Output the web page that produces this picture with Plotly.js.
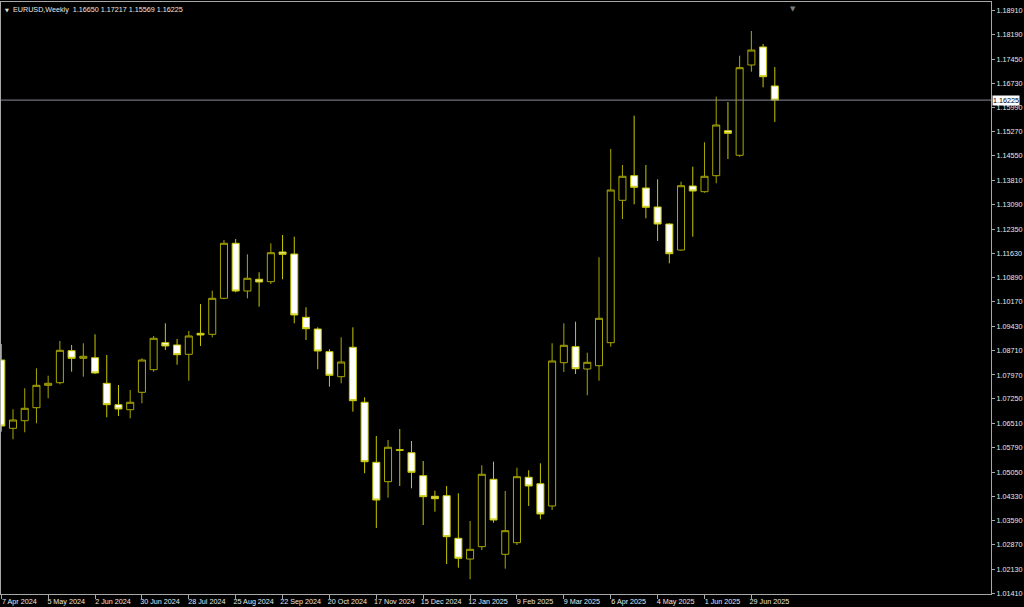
<!DOCTYPE html>
<html>
<head>
<meta charset="utf-8">
<script src="https://cdn.plot.ly/plotly-3.0.1.min.js"></script>
<style>
html,body{margin:0;padding:0;background:#000;}
#chart{width:1024px;height:607px;}
</style>
</head>
<body>
<div id="chart"></div>
<script>
const weekDates = [
 '2024-04-07','2024-04-14','2024-04-21','2024-04-28',
 '2024-05-05','2024-05-12','2024-05-19','2024-05-26',
 '2024-06-02','2024-06-09','2024-06-16','2024-06-23','2024-06-30',
 '2024-07-07','2024-07-14','2024-07-21','2024-07-28',
 '2024-08-04','2024-08-11','2024-08-18','2024-08-25',
 '2024-09-01','2024-09-08','2024-09-15','2024-09-22','2024-09-29',
 '2024-10-06','2024-10-13','2024-10-20','2024-10-27',
 '2024-11-03','2024-11-10','2024-11-17','2024-11-24',
 '2024-12-01','2024-12-08','2024-12-15','2024-12-22','2024-12-29',
 '2025-01-05','2025-01-12','2025-01-19','2025-01-26',
 '2025-02-02','2025-02-09','2025-02-16','2025-02-23',
 '2025-03-02','2025-03-09','2025-03-16','2025-03-23','2025-03-30',
 '2025-04-06','2025-04-13','2025-04-20','2025-04-27',
 '2025-05-04','2025-05-11','2025-05-18','2025-05-25',
 '2025-06-01','2025-06-08','2025-06-15','2025-06-22','2025-06-29',
 '2025-07-06','2025-07-13'
];
const openVals = [
 1.08420,1.06369,1.06597,1.06988,1.07660,1.07738,1.08699,1.08471,1.08489,1.07720,
 1.07078,1.06928,1.07450,1.08129,1.08940,1.08871,1.08591,1.09222,1.09192,1.10273,
 1.11925,1.10492,1.10844,1.10772,1.11663,1.11603,1.09702,1.09351,1.08669,1.07919,
 1.08802,1.07150,1.05348,1.04766,1.05727,1.05636,1.04946,1.04327,1.04345,1.03066,
 1.02444,1.02814,1.04838,1.02585,1.02934,1.04898,1.04705,1.04036,1.08339,1.08820,
 1.08150,1.08249,1.08940,1.13216,1.13955,1.13585,1.13015,1.12504,1.11723,1.13645,
 1.13474,1.13955,1.15306,1.14567,1.17279,1.17820,1.16650
];
const highVals = [
 1.08901,1.06940,1.07570,1.08171,1.07949,1.08991,1.08871,1.08922,1.09192,1.08570,
 1.07669,1.07519,1.08471,1.09141,1.09522,1.09051,1.09291,1.10102,1.10501,1.12024,
 1.12054,1.11594,1.11054,1.11925,1.12174,1.12123,1.10003,1.09402,1.08741,1.09102,
 1.09402,1.07300,1.06138,1.06018,1.06348,1.05988,1.05387,1.04495,1.04636,1.04417,
 1.03585,1.05258,1.05366,1.04486,1.05186,1.05108,1.05318,1.08922,1.09522,1.09570,
 1.08639,1.11504,1.14757,1.14276,1.15757,1.14276,1.13847,1.12525,1.13775,1.14225,
 1.14958,1.16327,1.16168,1.17558,1.18300,1.17910,1.17217
];
const lowVals = [
 1.06267,1.06039,1.06249,1.06519,1.07270,1.07690,1.08069,1.07919,1.08000,1.06699,
 1.06739,1.06669,1.07120,1.08069,1.08720,1.08279,1.07799,1.08841,1.09102,1.10243,
 1.10453,1.10273,1.10021,1.10702,1.10844,1.09522,1.09021,1.08141,1.07618,1.07720,
 1.06868,1.05018,1.03375,1.04285,1.04636,1.04567,1.03465,1.03865,1.02294,1.02183,
 1.01835,1.02714,1.03534,1.02153,1.02865,1.04036,1.03636,1.03916,1.08060,1.08000,
 1.07360,1.07799,1.08820,1.12654,1.13096,1.12675,1.11994,1.11324,1.11702,1.12123,
 1.13444,1.13727,1.14456,1.14525,1.17078,1.16609,1.15569
];
const closeVals = [
 1.06438,1.06618,1.06970,1.07660,1.07720,1.08711,1.08471,1.08531,1.08030,1.07078,
 1.06949,1.07150,1.08420,1.09072,1.08841,1.08579,1.09141,1.09171,1.10273,1.11925,
 1.10492,1.10874,1.10763,1.11642,1.11594,1.09772,1.09360,1.08690,1.07961,1.08360,
 1.07198,1.05366,1.04216,1.05799,1.05710,1.05048,1.04315,1.04255,1.03114,1.02465,
 1.02735,1.04988,1.03615,1.03294,1.04916,1.04636,1.03796,1.08390,1.08862,1.08159,
 1.08351,1.09672,1.13525,1.13937,1.13606,1.13006,1.12504,1.11612,1.13654,1.13495,
 1.13937,1.15477,1.15228,1.17198,1.17729,1.16928,1.16225
];
const xTickVals = [
 '2024-04-07','2024-05-05','2024-06-02','2024-06-30','2024-07-28','2024-08-25',
 '2024-09-22','2024-10-20','2024-11-17','2024-12-15','2025-01-12','2025-02-09',
 '2025-03-09','2025-04-06','2025-05-04','2025-06-01','2025-06-29'
];
const xTickText = [
 '7 Apr 2024','5 May 2024','2 Jun 2024','30 Jun 2024','28 Jul 2024','25 Aug 2024',
 '22 Sep 2024','20 Oct 2024','17 Nov 2024','15 Dec 2024','12 Jan 2025','9 Feb 2025',
 '9 Mar 2025','6 Apr 2025','4 May 2025','1 Jun 2025','29 Jun 2025'
];
const yTickText = [
 '1.01410','1.02130','1.02870','1.03590','1.04330','1.05050','1.05790','1.06510',
 '1.07250','1.07970','1.08710','1.09430','1.10170','1.10890','1.11630','1.12350',
 '1.13090','1.13810','1.14550','1.15270','1.15990','1.16730','1.17450','1.18190','1.18910'
];
const symbolTitle = 'EURUSD,Weekly';

const FONT = 'Liberation Sans, Arial, sans-serif';
const FS = 7.2;
const n = closeVals.length;
const lastClose = closeVals[n - 1];
const headerText = symbolTitle + '  ' + [openVals[n-1], highVals[n-1], lowVals[n-1], closeVals[n-1]]
  .map(v => v.toFixed(5)).join(' ');

const trace = {
  type: 'candlestick',
  x: weekDates,
  open: openVals, high: highVals, low: lowVals, close: closeVals,
  increasing: {line: {color: '#a8a800', width: 1}, fillcolor: '#000000'},
  decreasing: {line: {color: '#c8c800', width: 1}, fillcolor: '#ffffff'},
  whiskerwidth: 0,
  hoverinfo: 'skip',
  showlegend: false
};

const layout = {
  width: 1024, height: 607,
  margin: {l: 1, r: 33, t: 2, b: 13, pad: 0},
  paper_bgcolor: '#000000',
  plot_bgcolor: '#000000',
  showlegend: false,
  boxgap: 0.4,
  boxgroupgap: 0,
  font: {family: FONT, size: FS, color: '#e8e8e8'},
  xaxis: {
    type: 'date',
    range: ['2024-04-06 20:00', '2025-11-19 03:00'],
    rangeslider: {visible: false},
    showgrid: false, zeroline: false,
    showline: true, mirror: true, linecolor: '#a8a8a8', linewidth: 1,
    ticks: 'outside', ticklen: 4, tickcolor: '#a8a8a8', tickwidth: 1,
    tickmode: 'array', tickvals: xTickVals, ticktext: xTickText,
    ticklabelshift: 18, ticklabelstandoff: -4,
    tickfont: {family: FONT, size: FS, color: '#e8e8e8'},
    fixedrange: true
  },
  yaxis: {
    side: 'right',
    range: [1.01393, 1.19171],
    showgrid: false, zeroline: false,
    showline: true, mirror: true, linecolor: '#a8a8a8', linewidth: 1,
    ticks: 'outside', ticklen: 3, tickcolor: '#a8a8a8', tickwidth: 1,
    tickmode: 'array', tickvals: yTickText.map(Number), ticktext: yTickText,
    ticklabelstandoff: 0,
    tickfont: {family: FONT, size: FS, color: '#e8e8e8'},
    fixedrange: true
  },
  shapes: [{
    type: 'line', xref: 'paper', yref: 'y',
    x0: 0, x1: 1, y0: lastClose, y1: lastClose,
    line: {color: '#8c8c94', width: 1}
  }],
  annotations: [
    {xref: 'paper', yref: 'paper', x: 0, y: 1, xanchor: 'left', yanchor: 'top',
     xshift: 2, yshift: -3, text: '▼', showarrow: false,
     font: {family: 'DejaVu Sans', size: 5, color: '#e0e0e0'}},
    {xref: 'paper', yref: 'paper', x: 0, y: 1, xanchor: 'left', yanchor: 'top',
     xshift: 10, yshift: -1, text: headerText, showarrow: false,
     font: {family: FONT, size: FS, color: '#e8e8e8'}},
    {xref: 'paper', yref: 'paper', x: 0.8, y: 1, xanchor: 'center', yanchor: 'top',
     yshift: -1, text: '▼', showarrow: false,
     font: {family: 'DejaVu Sans', size: 7, color: '#7a7a7a'}},
    {xref: 'paper', yref: 'y', x: 1, y: lastClose, xanchor: 'left', yanchor: 'middle',
     xshift: 1, text: lastClose.toFixed(5), showarrow: false,
     bgcolor: '#ffffff', borderpad: 0,
     font: {family: FONT, size: FS, color: '#000000'}}
  ]
};

Plotly.newPlot('chart', [trace], layout, {staticPlot: true, displayModeBar: false});
</script>
</body>
</html>
